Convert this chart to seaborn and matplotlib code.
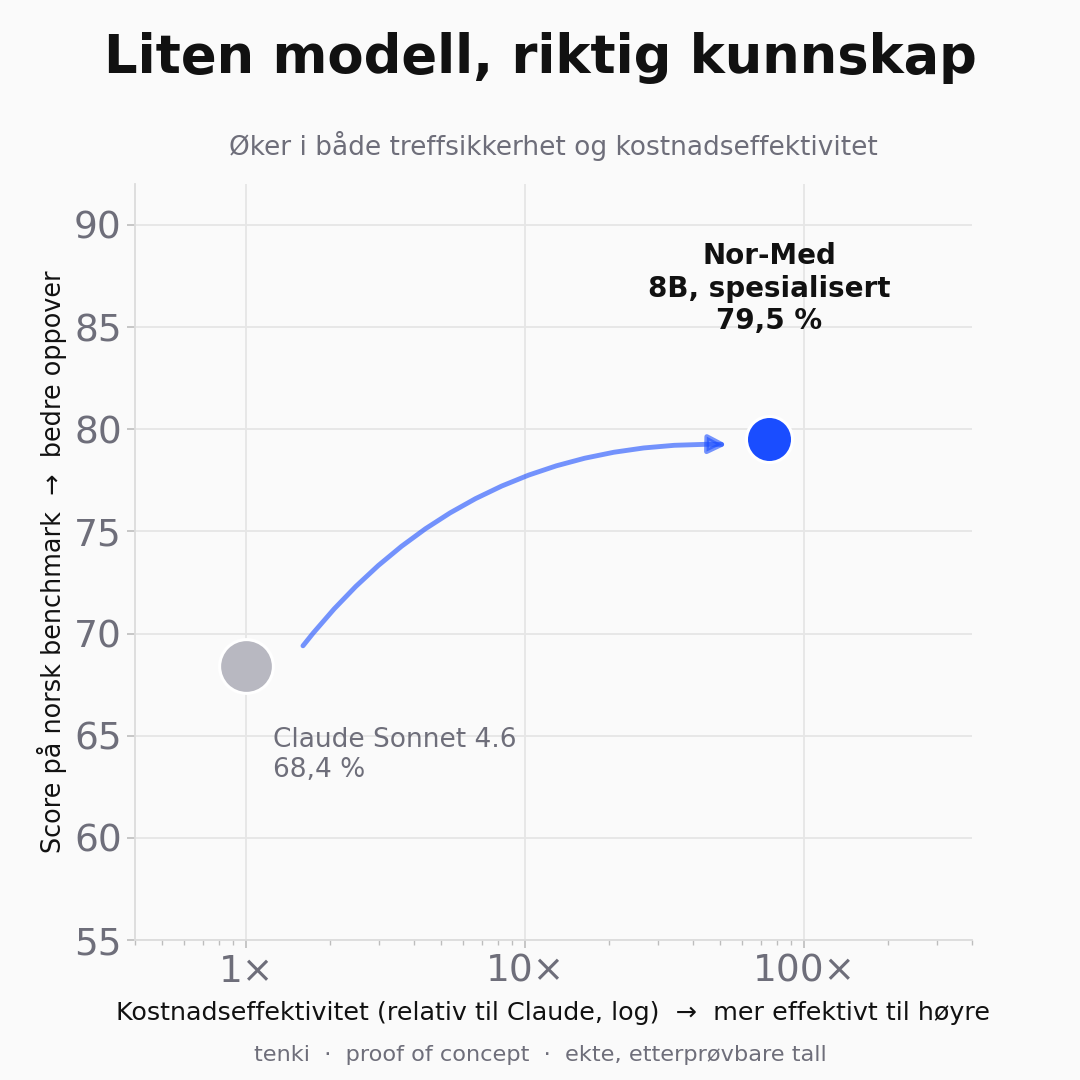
import matplotlib
matplotlib.use("Agg")
import matplotlib.pyplot as plt
import seaborn as sns
import pandas as pd

# ---- data ----
models = ["Claude Sonnet 4.6", "Nor-Med"]
cost_eff = [1.0, 75.0]
scores = [68.4, 79.5]
point_colors = ["#b8b8c1", "#1a4dff"]
point_sizes = [1500, 1100]
xtick_vals = [1, 10, 100]
xtick_labels = ["1×", "10×", "100×"]
ytick_vals = [55, 60, 65, 70, 75, 80, 85, 90]
arrow_start = (1.6, 69.4)
arrow_end = (53, 79.25)

sns.set_theme(style="whitegrid")
plt.rcParams["font.family"] = ["DejaVu Sans"]

BG = "#fafafa"
GRAY = "#6e6e7a"
GRID = "#e6e6e6"

fig = plt.figure(figsize=(10.8, 10.8), dpi=100, facecolor=BG)
ax = fig.add_axes([0.125, 0.1296, 0.775, 0.70])
ax.set_facecolor(BG)

df = pd.DataFrame({"model": models, "x": cost_eff, "y": scores})
for i, row in df.iterrows():
    sns.scatterplot(data=df.iloc[[i]], x="x", y="y", ax=ax, color=point_colors[i],
                    s=point_sizes[i], edgecolor="white", linewidth=2.2, zorder=5,
                    legend=False)

ax.set_xscale("log")
ax.set_xlim(0.4, 400)
ax.set_ylim(55, 92)
ax.set_xticks(xtick_vals)
ax.set_xticklabels(xtick_labels)
ax.set_yticks(ytick_vals)

ax.grid(True, which="major", color=GRID, linewidth=1.3)
ax.grid(False, which="minor")
ax.set_axisbelow(True)
for s in ["top", "right"]:
    ax.spines[s].set_visible(False)
for s in ["left", "bottom"]:
    ax.spines[s].set_color("#dcdcdc")
    ax.spines[s].set_linewidth(1.3)

ax.tick_params(axis="both", which="major", labelsize=27, labelcolor=GRAY,
               color="#bdbdbd", length=6, width=1.2, left=True, bottom=True)
ax.tick_params(axis="x", which="minor", color="#bdbdbd", length=3.5, width=1, bottom=True)
ax.tick_params(axis="x", pad=4)

ax.set_xlabel("Kostnadseffektivitet (relativ til Claude, log)  →  mer effektivt til høyre",
              fontsize=18.3, color="#111111", labelpad=8)
ax.set_ylabel("Score på norsk benchmark  →  bedre oppover", fontsize=18.4,
              color="#111111", labelpad=5)

ax.set_title("Øker i både treffsikkerhet og kostnadseffektivitet", fontsize=19,
             color=GRAY, pad=21)
fig.suptitle("Liten modell, riktig kunnskap", fontsize=38, fontweight="bold",
             color="#111111", y=0.97)

# annotations
ax.text(1.25, 65.45, f"{models[0]}\n68,4 %", fontsize=19, color=GRAY,
        ha="left", va="top", linespacing=1.2)
ax.text(75, 84.9, f"{models[1]}\n8B, spesialisert\n79,5 %", fontsize=20,
        fontweight="bold", color="#111111", ha="center", va="baseline",
        linespacing=1.2)

ax.annotate("", xy=arrow_end, xytext=arrow_start,
            arrowprops=dict(arrowstyle="-|>,head_length=0.9,head_width=0.45",
                            color="#1a4dff", alpha=0.6, lw=3.5,
                            connectionstyle="arc3,rad=-0.25",
                            shrinkA=0, shrinkB=0))

fig.text(0.5, 0.0176, "tenki  ·  proof of concept  ·  ekte, etterprøvbare tall",
         ha="center", va="baseline", fontsize=16.2, color=GRAY)

fig.savefig("out.png", dpi=100, facecolor=BG)
